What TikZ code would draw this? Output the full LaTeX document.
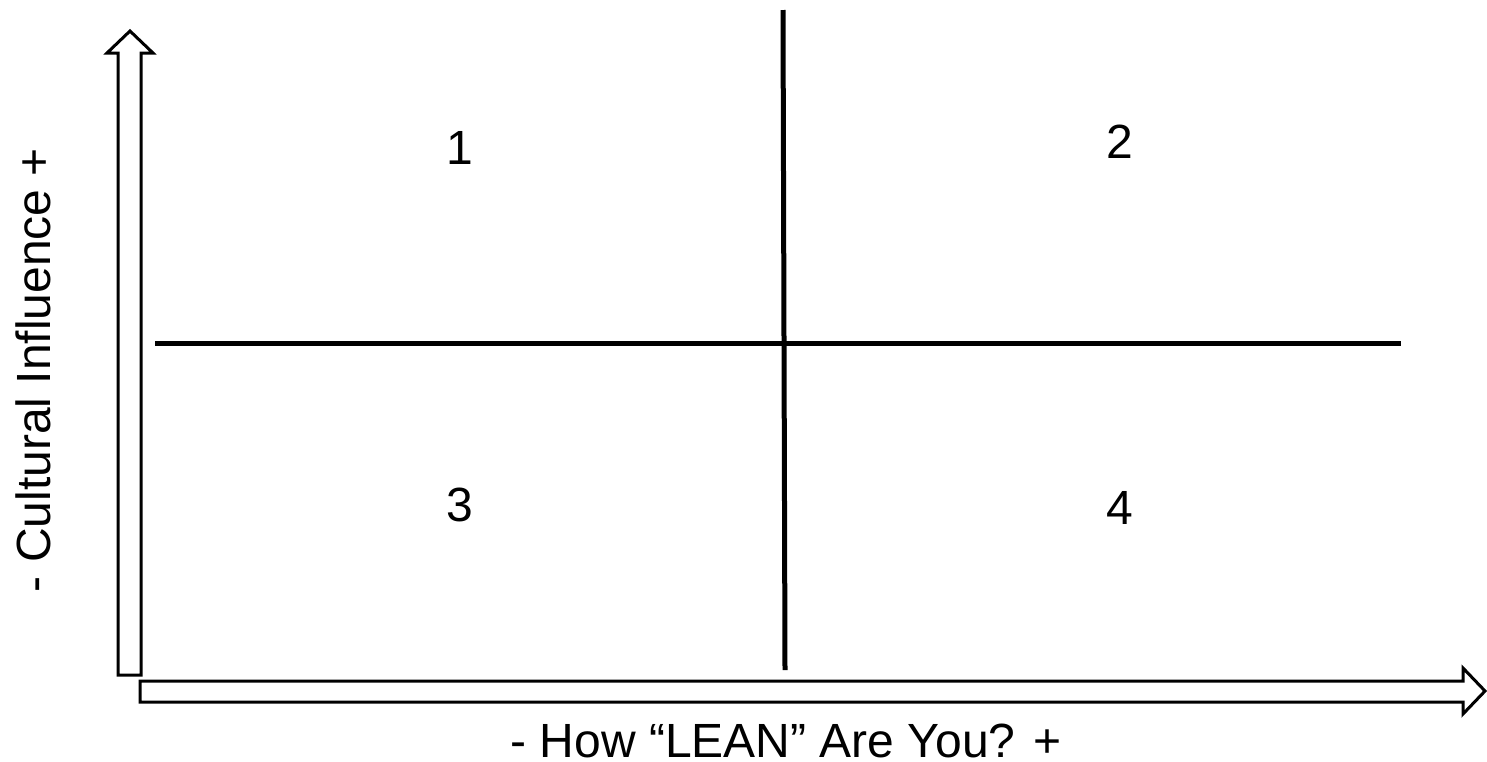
\documentclass[tikz,border=0pt]{standalone}
\usepackage{fontspec}
\setmainfont{Liberation Sans}
\begin{document}
\begin{tikzpicture}[x=1pt,y=-1pt,
  quadline/.style={line width=5pt},
  axisarrow/.style={line width=3pt,line join=miter,fill=white},
  numlabel/.style={font=\fontsize{48}{56}\selectfont,inner sep=0pt},
  axislabel/.style={font=\fontsize{48}{56}\selectfont,inner sep=0pt}]
\useasboundingbox (0,0) rectangle (1487,761);
% vertical axis arrow
\draw[axisarrow] (118,675) -- (141,675) -- (141,53) -- (153,53) -- (130,31) -- (107,53) -- (118,53) -- cycle;
% horizontal axis arrow
\draw[axisarrow] (140,681) -- (1463,681) -- (1463,668) -- (1485,691) -- (1463,714) -- (1463,702) -- (140,702) -- cycle;
% quadrant lines
\coordinate (vt) at (783,10);
\coordinate (vb) at (785,670);
\coordinate (hl) at (155,343);
\coordinate (hr) at (1401,343);
\draw[quadline] (vt) -- (vb);
\draw[quadline] (hl) -- (hr);
% labels
\node[numlabel] (q1) at (460,148) {1};
\node[numlabel] (q2) at (1120,142) {2};
\node[numlabel] (q3) at (460,505) {3};
\node[numlabel] (q4) at (1120,508) {4};
\node[axislabel,rotate=90,anchor=base] (ylab) at (50,370) {- Cultural Influence +};
\node[axislabel,anchor=base] (xlab) at (786,757) {- How “LEAN” Are You? +};
\end{tikzpicture}
\end{document}
